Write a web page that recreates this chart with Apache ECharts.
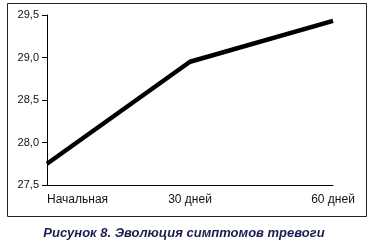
<!DOCTYPE html>
<html>
<head>
<meta charset="utf-8">
<script src="https://cdn.jsdelivr.net/npm/echarts@6/dist/echarts.min.js"></script>
<style>html,body{margin:0;padding:0;background:#fff;}#c{width:372px;height:242px;}</style>
</head>
<body>
<div id="c"></div>
<script>
const categories = ['Начальная', '30 дней', '60 дней'];
const values = [27.75, 28.95, 29.43];
const yTicks = { min: 27.5, max: 29.5, interval: 0.5 };
const caption = 'Рисунок 8. Эволюция симптомов тревоги';

const chart = echarts.init(document.getElementById('c'), null, { renderer: 'canvas' });
chart.setOption({
  animation: false,
  backgroundColor: '#fff',
  title: {
    text: caption,
    left: 179, top: 222, textAlign: 'center',
    textStyle: { fontFamily: 'Liberation Sans', fontSize: 13, fontWeight: 'bold', fontStyle: 'italic', color: '#1b1f4f' }
  },
  graphic: [{
    type: 'rect', shape: { x: 7.5, y: 3.5, width: 359, height: 213 },
    style: { fill: 'none', stroke: '#222', lineWidth: 1 }, silent: true
  }],
  grid: { left: 47, right: 39, top: 15, bottom: 57 },
  xAxis: {
    type: 'category', data: categories, boundaryGap: false,
    axisLine: { lineStyle: { color: '#000', width: 1 } },
    axisTick: { show: false },
    axisLabel: { color: '#111', fontFamily: 'Liberation Sans', fontSize: 12, margin: 9, alignMinLabel: 'left' },
    splitLine: { show: false }
  },
  yAxis: {
    type: 'value', min: yTicks.min, max: yTicks.max, interval: yTicks.interval,
    axisLine: { show: true, lineStyle: { color: '#000', width: 1 } },
    axisTick: { show: true, length: 5, lineStyle: { color: '#000' } },
    axisLabel: { color: '#111', fontFamily: 'Liberation Sans', fontSize: 11, margin: 8,
      formatter: v => v.toFixed(1).replace('.', ',') },
    splitLine: { show: false }
  },
  series: [{
    type: 'line', data: values, symbol: 'none',
    lineStyle: { color: '#000', width: 4.5 }
  }]
});
</script>
</body>
</html>
